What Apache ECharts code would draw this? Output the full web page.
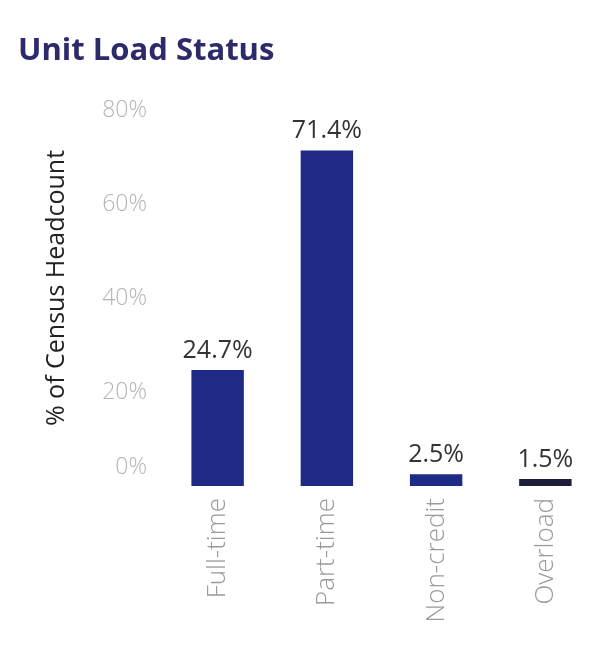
<!DOCTYPE html>
<html>
<head>
<meta charset="utf-8">
<script src="https://cdn.jsdelivr.net/npm/echarts@6/dist/echarts.min.js"></script>
<style>
  html, body { margin: 0; padding: 0; background: #fff; }
  #chart { width: 601px; height: 659px; }
</style>
</head>
<body>
<div id="chart"></div>
<script>
const categories = ["Full-time", "Part-time", "Non-credit", "Overload"];
const shares = [24.7, 71.4, 2.5, 1.5];
const barColors = ["#1f2a86", "#1f2a86", "#1f2a86", "#1b1d3a"];
const yTicks = [0, 20, 40, 60, 80];

const chart = echarts.init(document.getElementById("chart"));
chart.setOption({
  animation: false,
  backgroundColor: "#fff",
  title: {
    text: "Unit Load Status",
    left: 13,
    top: 31,
    textStyle: { fontFamily: "Open Sans", fontWeight: "bold", fontSize: 31, color: "#2c2a6b" },
  },
  grid: { left: 163, right: 1, top: 110, bottom: 173 },
  xAxis: {
    type: "category",
    data: categories,
    axisLine: { show: false },
    axisTick: { show: false },
    axisLabel: {
      rotate: 90,
      margin: 12,
      color: "#9a9a9a",
      fontFamily: "Open Sans",
      fontSize: 26,
      fontWeight: 300,
    },
  },
  yAxis: {
    type: "value",
    min: yTicks[0],
    max: yTicks[yTicks.length - 1],
    interval: 20,
    name: "% of Census Headcount",
    nameLocation: "middle",
    nameGap: 94,
    nameTextStyle: { fontFamily: "Open Sans", fontSize: 25, fontWeight: 500, color: "#222", padding: [0, 0, 0, 20] },
    axisLine: { show: false },
    axisTick: { show: false },
    splitLine: { show: false },
    axisLabel: {
      margin: 16,
      color: "#b4b4b4",
      fontFamily: "Open Sans",
      fontSize: 23,
      fontWeight: 300,
      formatter: (v) => (v === 0 ? "{z|0%}" : v + "%"),
      rich: { z: { padding: [0, 0, 38, 0], color: "#b4b4b4", fontFamily: "Open Sans", fontSize: 23, fontWeight: 300 } },
    },
  },
  series: [
    {
      type: "bar",
      barWidth: "48%",
      data: shares.map((v, i) => ({ value: v, itemStyle: { color: barColors[i] } })),
      label: {
        show: true,
        position: "top",
        distance: 7,
        formatter: (p) => p.value.toFixed(1) + "%",
        color: "#333",
        fontFamily: "Open Sans",
        fontSize: 25,
      },
    },
  ],
});
</script>
</body>
</html>
